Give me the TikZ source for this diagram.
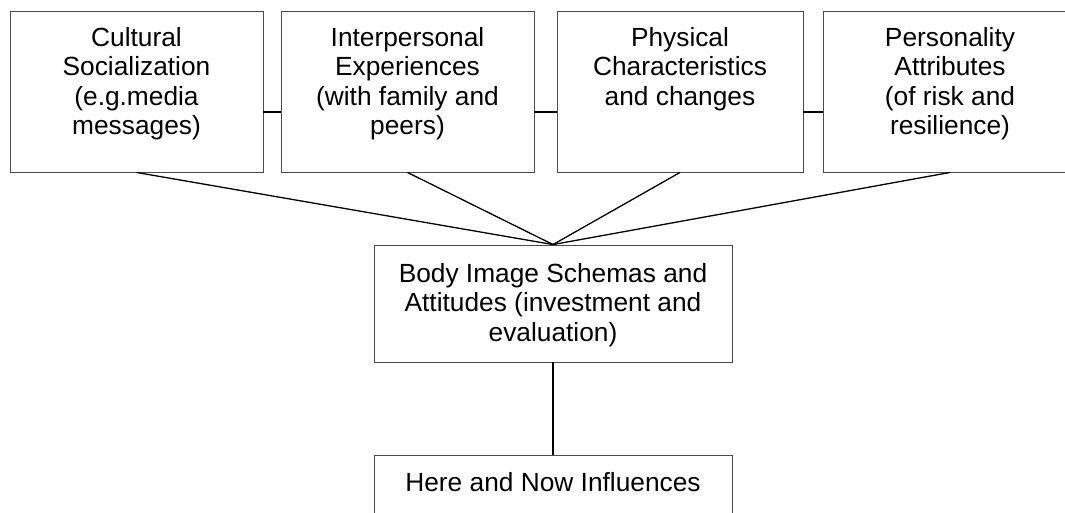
\documentclass[tikz,border=0pt]{standalone}
\usepackage{fontspec}
\setmainfont{Liberation Sans}
\usepackage{tikz}
\usetikzlibrary{positioning,calc}

% top-aligned text block of a given size
\newcommand{\boxtext}[4]{\parbox[c][#2][t]{#1}{\centering\vspace*{#3}#4}}

\begin{document}
\begin{tikzpicture}[x=1pt,y=-1pt,
    box/.style={rectangle,draw=black!70,line width=0.9pt,inner sep=0pt,
      font=\fontsize{26.3}{29.6}\selectfont},
    link/.style={line width=1.3pt}
    ]
\useasboundingbox (0,0) rectangle (1065,512);

% Top row of influences
\node[box] (cult) at (136.5,91.5) {\boxtext{253pt}{161pt}{16pt}{Cultural\\Socialization\\(e.g.media\\messages)}};
\node[box] (inter) at (407.5,91.5) {\boxtext{253pt}{161pt}{16pt}{Interpersonal\\Experiences\\(with family and\\peers)}};
\node[box] (phys) at (680,91.5) {\boxtext{246pt}{161pt}{16pt}{Physical\\Characteristics\\and changes}};
\node[box] (pers) at (950,91.5) {\boxtext{254pt}{161pt}{16pt}{Personality\\Attributes\\(of risk and\\resilience)}};

\draw[link] ([yshift=-20.5pt]cult.east) -- ([yshift=-20.5pt]inter.west);
\draw[link] ([yshift=-20.5pt]inter.east) -- ([yshift=-20.5pt]phys.west);
\draw[link] ([yshift=-20.5pt]phys.east) -- ([yshift=-20.5pt]pers.west);

% Body image and present influences
\node[box] (body) at (553,303.5) {\boxtext{358pt}{117pt}{18pt}{Body Image Schemas and\\Attitudes (investment and\\evaluation)}};
\node[box] (now) at (553,490) {\boxtext{358pt}{70pt}{17pt}{Here and Now Influences}};

\draw[link] (cult.south) -- (body.north);
\draw[link] (inter.south) -- (body.north);
\draw[link] (phys.south) -- (body.north);
\draw[link] (pers.south) -- (body.north);
\draw[link] (body.south) -- (now.north);

\end{tikzpicture}
\end{document}
